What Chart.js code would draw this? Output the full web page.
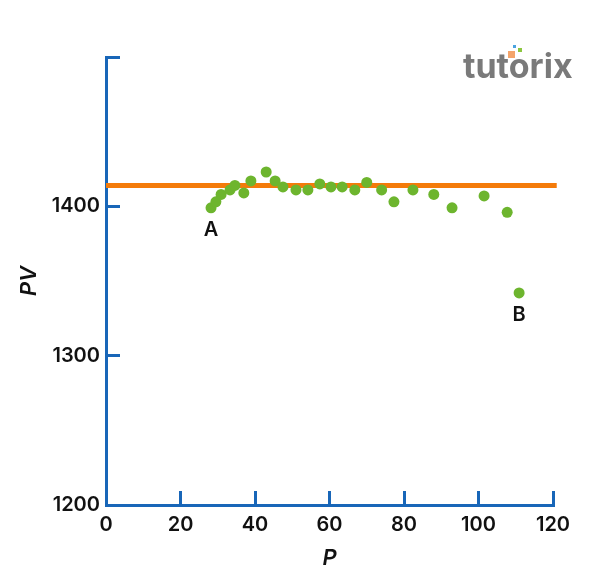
<!DOCTYPE html>
<html>
<head>
<meta charset="utf-8">
<script src="https://cdn.jsdelivr.net/npm/chart.js@4.4.0/dist/chart.umd.min.js"></script>
<style>
  body { margin: 0; background: #fff; }
  canvas { display: block; }
</style>
</head>
<body>
<canvas id="myChart" width="600" height="581"></canvas>
<script>
// data
var pValues = [28.2, 29.5, 30.9, 33.3, 34.6, 37.0, 38.9, 43.0, 45.4, 47.5, 51.0, 54.2, 57.4, 60.4, 63.4, 66.8, 70.0, 74.0, 77.3, 82.4, 88.0, 92.9, 101.5, 107.7, 110.9];
var pvValues = [1399, 1403, 1408, 1411, 1414, 1409, 1417, 1423, 1417, 1413, 1411, 1411, 1415, 1413, 1413, 1411, 1416, 1411, 1403, 1411, 1408, 1399, 1407, 1396, 1342];
var meanLine = 1414;
var lineEnds = [0, 121];
var xTicks = [0, 20, 40, 60, 80, 100, 120];
var yTicks = [1200, 1300, 1400, 1500];
var pointLabels = [{ text: 'A', index: 0 }, { text: 'B', index: 24 }];

var blue = '#1866b8';
var fontFamily = 'Inter, "Noto Sans", sans-serif';

var scatterData = pValues.map(function (p, i) { return { x: p, y: pvValues[i] }; });
var lineData = lineEnds.map(function (x) { return { x: x, y: meanLine }; });

var extras = {
  id: 'extras',
  afterDatasetsDraw: function (chart) {
    var c = chart.ctx;
    var xs = chart.scales.x, ys = chart.scales.y;
    c.save();
    c.fillStyle = '#111';
    c.font = '600 20px ' + fontFamily;
    c.textAlign = 'center';
    c.textBaseline = 'middle';
    pointLabels.forEach(function (l) {
      var px = xs.getPixelForValue(pValues[l.index]);
      var py = ys.getPixelForValue(pvValues[l.index]);
      c.fillText(l.text, px, py + 22);
    });
    // logo
    c.font = 'bold 34px ' + fontFamily;
    c.textAlign = 'left';
    c.textBaseline = 'alphabetic';
    c.fillStyle = '#7a7a7a';
    c.fillText('tutorix', 463, 78);
    c.fillStyle = '#f4a46a';
    c.fillRect(508, 51, 7, 7);
    c.fillStyle = '#8cc63f';
    c.fillRect(518, 48, 4, 4);
    c.fillStyle = '#4aa3df';
    c.fillRect(513, 45, 3, 3);
    c.restore();
  }
};

var ctx = document.getElementById('myChart').getContext('2d');
var myChart = new Chart(ctx, {
  type: 'scatter',
  data: {
    datasets: [{
      label: 'mean',
      type: 'line',
      data: lineData,
      borderColor: '#f47b0a',
      borderWidth: 5,
      pointRadius: 0,
      clip: false,
      order: 2
    }, {
      label: 'PV',
      data: scatterData,
      backgroundColor: '#6db52e',
      borderWidth: 0,
      pointRadius: 5.5,
      clip: false,
      order: 1
    }]
  },
  plugins: [extras],
  options: {
    responsive: false,
    animation: false,
    layout: { padding: { top: 57, right: 47, left: 0, bottom: 0 } },
    plugins: { legend: { display: false }, tooltip: { enabled: false } },
    scales: {
      x: {
        type: 'linear',
        min: 0, max: 120,
        afterFit: function (s) { s.height = 76; },
        afterBuildTicks: function (s) { s.ticks = xTicks.map(function (v) { return { value: v }; }); },
        border: { color: blue, width: 3 },
        grid: { drawOnChartArea: false, color: blue, tickLength: -14, tickWidth: 3 },
        ticks: { color: '#111', padding: 22, font: { family: fontFamily, size: 20, weight: '600' } },
        title: { display: true, text: 'P', color: '#111', padding: { bottom: 9 }, font: { family: fontFamily, size: 22, style: 'italic', weight: '600' } }
      },
      y: {
        type: 'linear',
        min: 1200, max: 1500,
        afterFit: function (s) { s.width = 106; },
        afterBuildTicks: function (s) { s.ticks = yTicks.map(function (v) { return { value: v }; }); },
        border: { color: blue, width: 3 },
        grid: { drawOnChartArea: false, color: blue, tickLength: -14, tickWidth: 3 },
        ticks: {
          color: '#111', padding: 20,
          font: { family: fontFamily, size: 20, weight: '600' },
          callback: function (v) { return v === 1500 ? '' : v; }
        },
        title: { display: true, text: 'PV', color: '#111', padding: { top: 16 }, font: { family: fontFamily, size: 22, style: 'italic', weight: '600' } }
      }
    }
  }
});
</script>
</body>
</html>
